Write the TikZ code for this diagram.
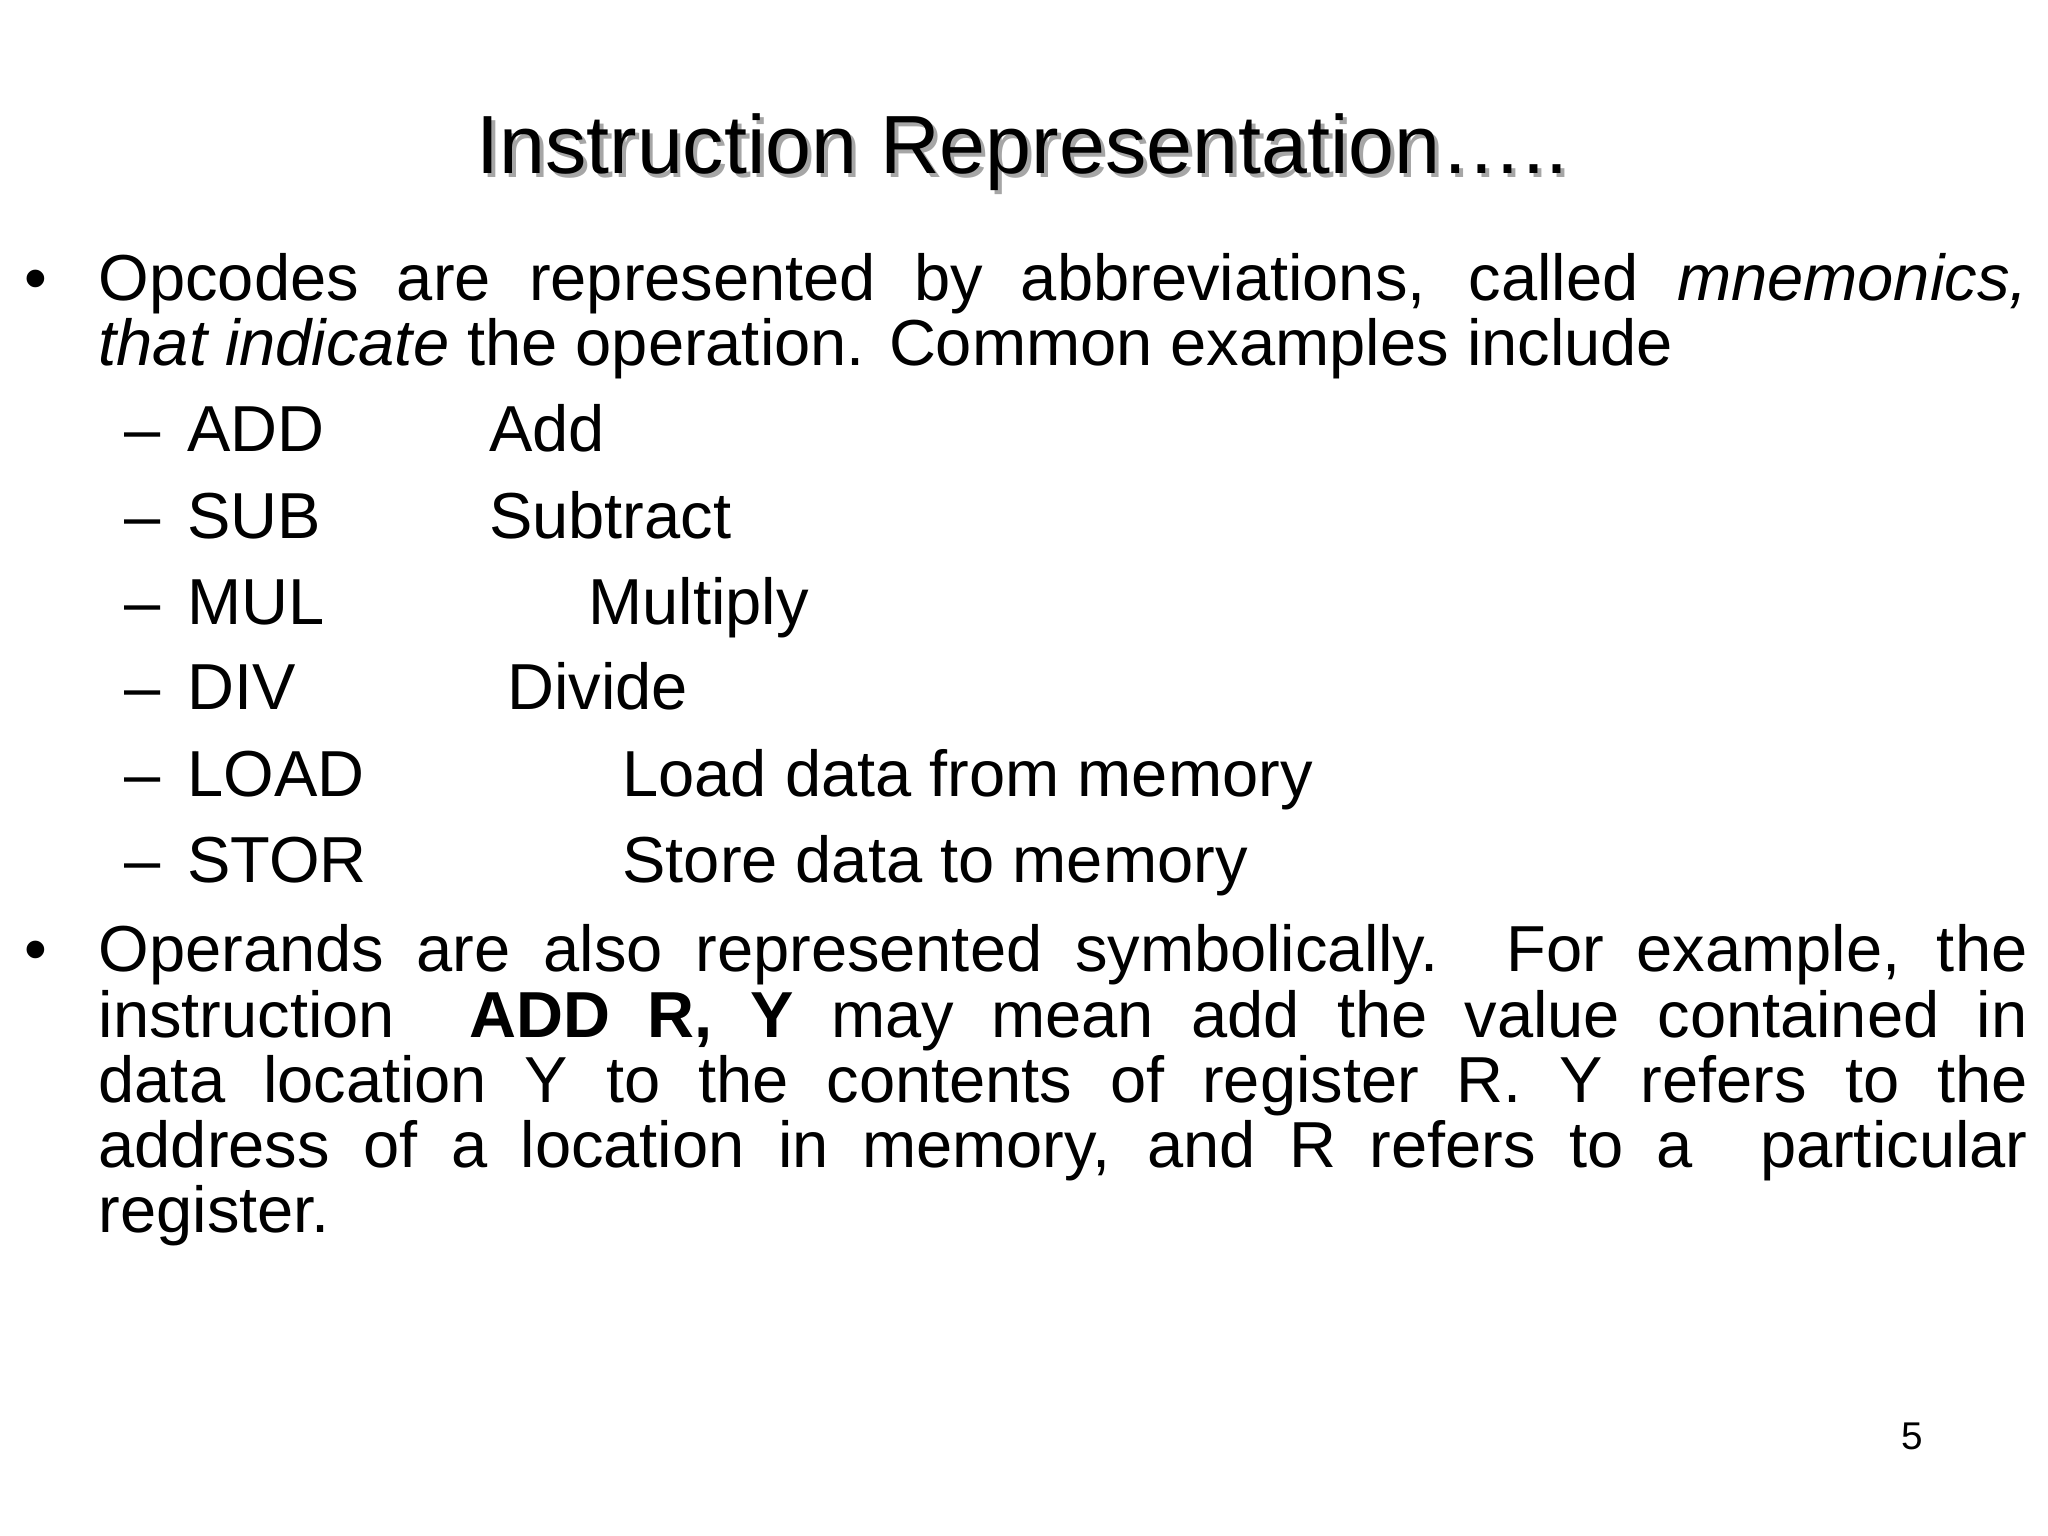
\documentclass[tikz,border=0pt]{standalone}
\usepackage{fontspec}
\setmainfont{Liberation Sans}
\begin{document}
\begin{tikzpicture}[x=0.01306cm,y=-0.01306cm,
  txt/.style={anchor=base west,inner sep=0pt,font=\fontsize{18.5}{20}\selectfont},
  ttl/.style={anchor=base,inner sep=0pt,font=\fontsize{23.5}{26}\selectfont}]
\useasboundingbox (0,0) rectangle (1568,1176);
\node[ttl,text=gray!70] (tshadow) at (786,136) {Instruction Representation…..};
\node[ttl] (title) at (783,133) {Instruction Representation…..};
\def\W{19.29cm}
\node[txt] (b1) at (18,230) {•};
\node[txt] (p1a) at (75,230) {\makebox[\W][s]{Opcodes are represented by abbreviations, called \textit{mnemonics,}}};
\node[txt] (p1b) at (75,280) {\textit{that indicate} the operation. Common examples include};
\foreach \y/\a/\b/\x in {346/ADD/Add/374, 412/SUB/Subtract/374, 478/MUL/Multiply/450, 543/DIV/Divide/388, 610/LOAD/Load data from memory/476, 676/STOR/Store data to memory/476}{
  \node[txt] at (95,\y) {–};
  \node[txt] at (143,\y) {\a};
  \node[txt] at (\x,\y) {\b};
}
\node[txt] (b2) at (18,744) {•};
\node[txt] (p2a) at (75,744) {\makebox[\W][s]{Operands are also represented symbolically. For example, the}};
\node[txt] (p2b) at (75,794) {\makebox[\W][s]{instruction\ \ \textbf{ADD R, Y} may mean add the value contained in}};
\node[txt] (p2c) at (75,844) {\makebox[\W][s]{data location Y to the contents of register R. Y refers to the}};
\node[txt] (p2d) at (75,894) {\makebox[\W][s]{address of a location in memory, and R refers to a\ \ particular}};
\node[txt] (p2e) at (75,944) {register.};
\node[anchor=base,inner sep=0pt,font=\fontsize{11}{13}\selectfont] (pg) at (1464,1110) {5};
\end{tikzpicture}
\end{document}
